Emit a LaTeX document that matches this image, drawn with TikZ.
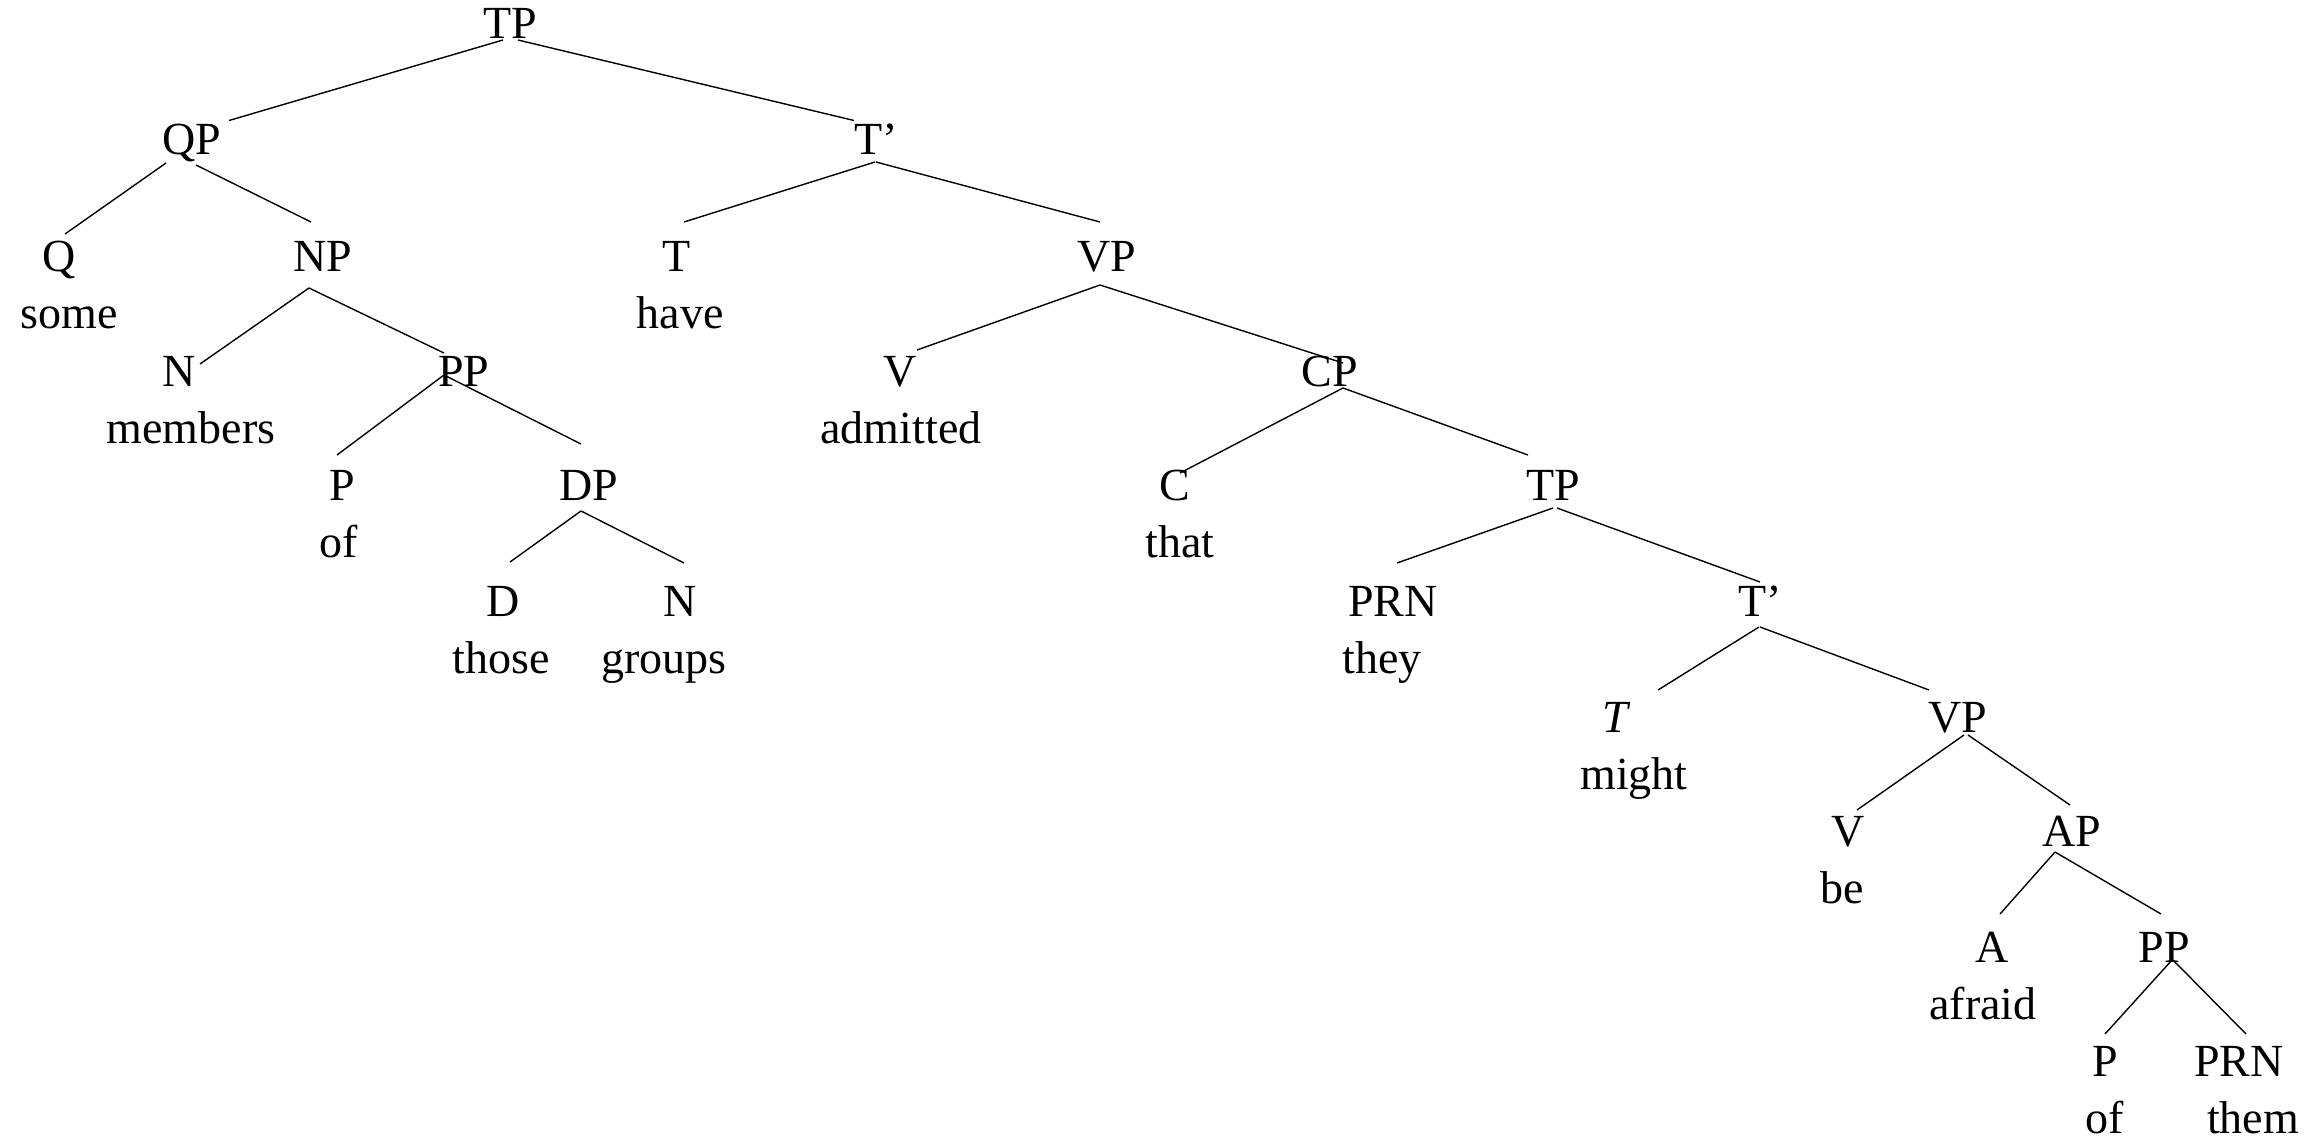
\documentclass[tikz,border=0pt]{standalone}
\usepackage{fontspec}
\setmainfont{Liberation Serif}
\tikzset{
  lbl/.style={anchor=base, inner sep=0pt, outer sep=0pt, font=\fontsize{46}{50}\selectfont},
  branch/.style={line width=1.4pt, black}
}
\newcommand\lnk[6]{\draw[branch] ([shift={(#2,#3)}]#1.base) -- ([shift={(#5,#6)}]#4.base);}
\begin{document}
\begin{tikzpicture}[x=1pt,y=-1pt]
\useasboundingbox (0,0) rectangle (2322,1140);
% row 0
\node[lbl] (tpa) at (510,39) {TP};
% row 1
\node[lbl] (qp) at (192,154.5) {QP};
\node[lbl] (tba) at (876,154.5) {T'};
% row 2
\node[lbl] (q) at (59,271) {Q};
\node[lbl] (np) at (323,271) {NP};
\node[lbl] (ta) at (677,271) {T};
\node[lbl] (vpa) at (1107,271) {VP};
\node[lbl] (wsome) at (69,328) {some};
\node[lbl] (whave) at (680,328) {have};
% row 3
\node[lbl] (na) at (179,386) {N};
\node[lbl] (ppa) at (464,386) {PP};
\node[lbl] (va) at (900,386) {V};
\node[lbl] (cp) at (1330,386) {CP};
\node[lbl] (wmembers) at (191,443) {members};
\node[lbl] (wadmitted) at (901,443) {admitted};
% row 4
\node[lbl] (pa) at (342,500.5) {P};
\node[lbl] (dp) at (589,500.5) {DP};
\node[lbl] (c) at (1175,500.5) {C};
\node[lbl] (tpb) at (1553,500.5) {TP};
\node[lbl] (wofa) at (339,557.5) {of};
\node[lbl] (wthat) at (1180,557.5) {that};
% row 5
\node[lbl] (d) at (503,616.5) {D};
\node[lbl] (nb) at (680,616.5) {N};
\node[lbl] (prna) at (1393,616.5) {PRN};
\node[lbl] (tbb) at (1760,616.5) {T'};
\node[lbl] (wthose) at (501,673.5) {those};
\node[lbl] (wgroups) at (664,673.5) {groups};
\node[lbl] (wthey) at (1382,673.5) {they};
% row 6
\node[lbl] (tb) at (1617,732) {\textit{T}};
\node[lbl] (vpb) at (1958,732) {VP};
\node[lbl] (wmight) at (1634,789) {might};
% row 7
\node[lbl] (vb) at (1848,846) {V};
\node[lbl] (ap) at (2072,846) {AP};
\node[lbl] (wbe) at (1842,903) {be};
% row 8
\node[lbl] (a) at (1992,962) {A};
\node[lbl] (ppb) at (2164,962) {PP};
\node[lbl] (wafraid) at (1983,1019) {afraid};
% row 9
\node[lbl] (pb) at (2105,1076) {P};
\node[lbl] (prnb) at (2239,1076) {PRN};
\node[lbl] (wofb) at (2105,1133) {of};
\node[lbl] (wthem) at (2253,1133) {them};
% branches
\lnk{tpa}{-7}{1}{qp}{37}{-34}
\lnk{tpa}{8}{1}{tba}{-22}{-34}
\lnk{qp}{-26}{8.5}{q}{6}{-37}
\lnk{qp}{4}{10.5}{np}{-12}{-49}
\lnk{tba}{-1}{7.5}{ta}{7}{-49}
\lnk{tba}{0}{7.5}{vpa}{-7}{-49}
\lnk{np}{-14}{17}{na}{21}{-22}
\lnk{np}{-14}{17}{ppa}{-20}{-33}
\lnk{vpa}{-7}{14}{va}{17}{-36}
\lnk{vpa}{-7}{14}{cp}{13}{-23}
\lnk{ppa}{-20}{-11}{pa}{-5}{-45.5}
\lnk{ppa}{-20}{-11}{dp}{-8}{-56.5}
\lnk{cp}{13}{2}{c}{5}{-27.5}
\lnk{cp}{13}{2}{tpb}{-25}{-45.5}
\lnk{dp}{-8}{10.5}{d}{7}{-54.5}
\lnk{dp}{-8}{10.5}{nb}{4}{-53.5}
\lnk{tpb}{0}{7.5}{prna}{4}{-53.5}
\lnk{tpb}{4}{7.5}{tbb}{0}{-34.5}
\lnk{tbb}{-1}{10.5}{tb}{41}{-42}
\lnk{tbb}{0}{10.5}{vpb}{-29}{-42}
\lnk{vpb}{6}{3}{vb}{9}{-36}
\lnk{vpb}{10}{3}{ap}{-2}{-41}
\lnk{ap}{-17}{6}{a}{8}{-48}
\lnk{ap}{-17}{6}{ppb}{-3}{-48}
\lnk{ppb}{8}{-2}{pb}{0}{-42}
\lnk{ppb}{9}{-2}{prnb}{7}{-42}
\end{tikzpicture}
\end{document}
